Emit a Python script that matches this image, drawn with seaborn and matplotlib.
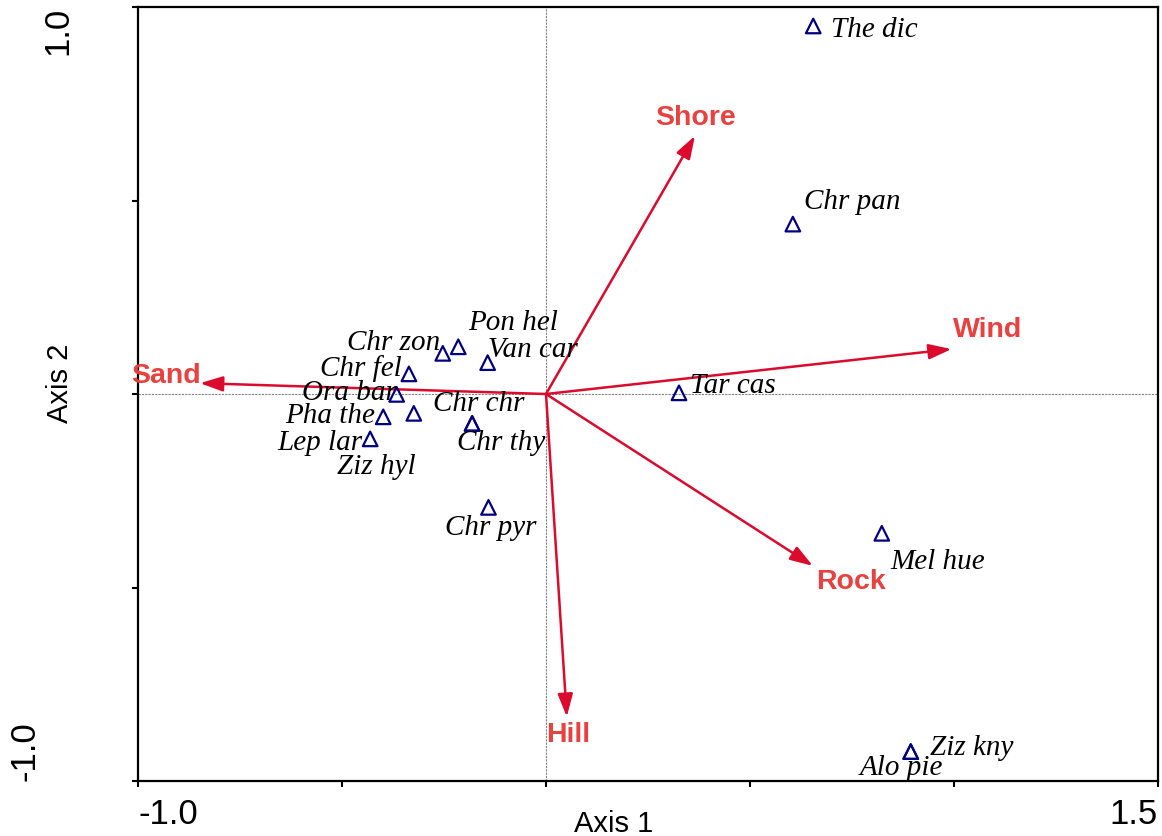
import matplotlib
matplotlib.use("Agg")
import matplotlib.pyplot as plt
import seaborn as sns
import pandas as pd

# === Species scores (ordination axes) ===
species = ["The dic", "Chr pan", "Pon hel", "Chr zon", "Van car", "Chr fel",
           "Ora bar", "Ziz hyl", "Pha the", "Lep lar", "Chr chr", "Chr thy",
           "Chr pyr", "Tar cas", "Mel hue", "Ziz kny", "Alo pie"]
axis1 = [0.655, 0.605, -0.215, -0.253, -0.143, -0.336, -0.366, -0.324, -0.399,
         -0.431, -0.181, -0.181, -0.141, 0.326, 0.823, 0.894, 0.894]
axis2 = [0.951, 0.439, 0.122, 0.105, 0.081, 0.052, -0.001, -0.050, -0.059,
         -0.116, -0.076, -0.076, -0.293, 0.003, -0.360, -0.924, -0.924]

# === Environmental variables (biplot arrows) ===
env_vars = ["Shore", "Wind", "Sand", "Rock", "Hill"]
env_axis1 = [0.365, 0.994, -0.848, 0.654, 0.051]
env_axis2 = [0.667, 0.116, 0.028, -0.444, -0.834]

# label offsets in pixels (dx, dy, ha)
species_offsets = [(18, -4, "left"), (11, 22, "left"), (10, 24, "left"),
                   (-3, 10, "right"), (0, 13, "left"), (-7, 5, "right"),
                   (0, 1, "right"), (-77, -54, "left"), (-8, 1, "right"),
                   (-8, -4, "right"), (-39, 19, "left"), (-15, -20, "left"),
                   (-43, -21, "left"), (11, 7, "left"), (9, -29, "left"),
                   (19, 4, "left"), (-51, -16, "left")]
env_offsets = [(1, 18), (36, 19), (-34, 7), (38, -16), (1, -18)]

df = pd.DataFrame({"species": species, "Axis 1": axis1, "Axis 2": axis2})

sns.set_theme(style="white")
plt.rcParams["font.family"] = ["Liberation Sans", "DejaVu Sans"]

arrow_color = "#DC0A2D"
label_color = "#E8413F"
marker_color = "#000080"

fig = plt.figure(figsize=(11.62, 8.36), dpi=100)
ax = fig.add_axes([138 / 1162, 55 / 836, 1020 / 1162, 774 / 836])

# Ejes de referencia
ax.axhline(0, color="#808080", lw=0.8, ls=(0, (2, 1)), zorder=1)
ax.axvline(0, color="#808080", lw=0.8, ls=(0, (2, 1)), zorder=1)

# Flechas de variables ambientales
for name, ex, ey, (dx, dy) in zip(env_vars, env_axis1, env_axis2, env_offsets):
    ax.annotate("", xy=(ex, ey), xytext=(0, 0),
                arrowprops=dict(arrowstyle="-|>,head_length=0.6,head_width=0.2",
                                color=arrow_color, lw=1.8, mutation_scale=23,
                                shrinkA=0, shrinkB=0), zorder=2)
    ax.annotate(name, xy=(ex, ey), xytext=(dx, dy), textcoords="offset pixels",
                ha="center", va="center", color=label_color, fontsize=20.5,
                fontweight="bold", zorder=4)

# Especies
sns.scatterplot(data=df, x="Axis 1", y="Axis 2", marker="^", s=110,
                color=marker_color, facecolor="none", edgecolor=marker_color,
                linewidth=1.6, legend=False, ax=ax, zorder=3)

for name, sx, sy, (dx, dy, ha) in zip(species, axis1, axis2, species_offsets):
    ax.annotate(name, xy=(sx, sy), xytext=(dx, dy), textcoords="offset pixels",
                ha=ha, va="center", fontsize=21, fontstyle="italic",
                family=["Liberation Serif", "DejaVu Serif"], color="black",
                zorder=4)

ax.set_xlim(-1.0, 1.5)
ax.set_ylim(-1.0, 1.0)

ax.set_xticks([-1.0, -0.5, 0, 0.5, 1.0, 1.5])
ax.set_xticklabels(["-1.0", "", "", "", "", "1.5"])
ax.set_yticks([-1.0, -0.5, 0, 0.5, 1.0])
ax.set_yticklabels(["-1.0", "", "", "", "1.0"], rotation=90)

ax.tick_params(axis="both", direction="out", length=4, width=1.5,
               colors="black", labelsize=25, bottom=True, left=True)
ax.tick_params(axis="x", pad=8)
ax.tick_params(axis="y", pad=42)

xl = ax.get_xticklabels()
xl[0].set_ha("left")
xl[-1].set_ha("right")
yl = ax.get_yticklabels()
yl[0].set_va("bottom")
yl[0].set_x(-33 / 1020)
yl[-1].set_va("top")

for sp in ax.spines.values():
    sp.set_visible(True)
    sp.set_color("black")
    sp.set_linewidth(1.6)

ax.set_xlabel("Axis 1", fontsize=21, color="black")
ax.set_ylabel("Axis 2", fontsize=21, color="black")
ax.xaxis.set_label_coords((614 - 138) / 1020, -29 / 774)
ax.yaxis.set_label_coords((74 - 138) / 1020, (781 - 383) / 774)

fig.savefig("out.png", dpi=100)
plt.close(fig)
